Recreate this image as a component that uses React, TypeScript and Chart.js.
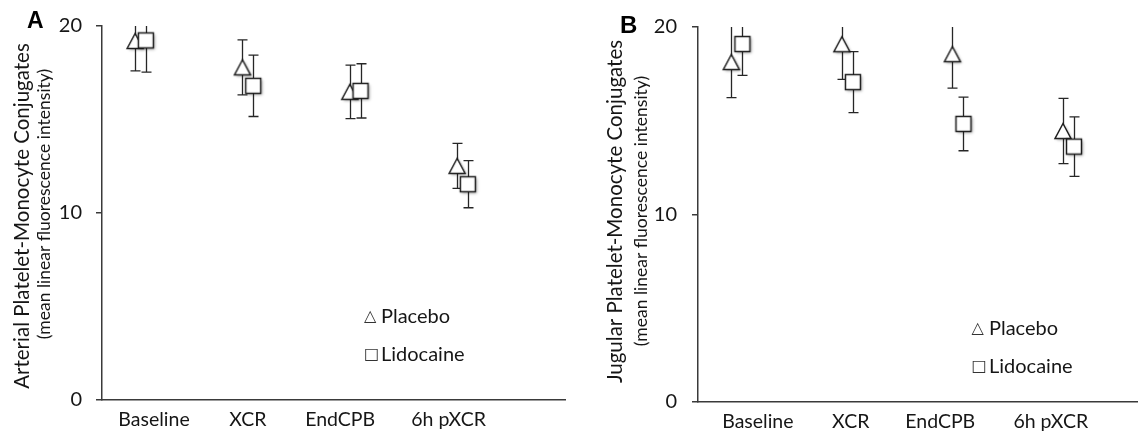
import React, { useEffect, useRef } from "react";
import { Chart, registerables } from "chart.js";

Chart.register(...registerables);

// ---------- data ----------
const categories = ["Baseline", "XCR", "EndCPB", "6h pXCR"];
const seriesNames = ["Placebo", "Lidocaine"];
const yTickValues = [0, 10, 20];

const arterialPlacebo = [19.2, 17.79, 16.48, 12.52];
const arterialPlaceboErr = [1.6, 1.47, 1.43, 1.2];
const arterialLidocaine = [19.23, 16.8, 16.53, 11.54];
const arterialLidocaineErr = [1.7, 1.64, 1.45, 1.26];

const jugularPlacebo = [18.13, 19.08, 18.55, 14.45];
const jugularPlaceboErr = [1.9, 1.87, 1.81, 1.74];
const jugularLidocaine = [19.09, 17.06, 14.83, 13.62];
const jugularLidocaineErr = [1.67, 1.63, 1.43, 1.59];

// category label positions along the x axis (axis units; category i sits at i+1)
const arterialLabelAt = [1.126, 2.0, 2.86, 3.87];
const jugularLabelAt = [1.19, 2.03, 2.84, 3.84];

// ---------- styling ----------
const SERIES_SHIFT = 0.05;
const FONT = "Lato, 'Open Sans', sans-serif";
const INK = "#161616";
const AXIS = "#3a3a3a";

function makeMarker(shape: "triangle" | "square"): HTMLCanvasElement {
  const c = document.createElement("canvas");
  c.width = 26;
  c.height = 26;
  const ctx = c.getContext("2d")!;
  const cx = 13;
  const cy = 13;
  ctx.beginPath();
  if (shape === "square") {
    ctx.rect(cx - 7.5, cy - 7.5, 15, 15);
  } else {
    ctx.moveTo(cx, cy - 7.5);
    ctx.lineTo(cx + 8, cy + 7.5);
    ctx.lineTo(cx - 8, cy + 7.5);
    ctx.closePath();
  }
  ctx.shadowColor = "rgba(0,0,0,0.35)";
  ctx.shadowBlur = 3;
  ctx.shadowOffsetX = 1.5;
  ctx.shadowOffsetY = 1.5;
  ctx.fillStyle = "#ffffff";
  ctx.fill();
  ctx.shadowColor = "transparent";
  ctx.lineWidth = 1.5;
  ctx.strokeStyle = "#1c1c1c";
  ctx.stroke();
  return c;
}

const errorBarPlugin = {
  id: "errorBars",
  beforeDatasetsDraw(chart: any) {
    const { ctx, chartArea, scales } = chart;
    const xs = scales.x;
    const ys = scales.y;
    ctx.save();
    ctx.beginPath();
    ctx.rect(chartArea.left, chartArea.top, chartArea.right - chartArea.left, chartArea.bottom - chartArea.top);
    ctx.clip();
    ctx.strokeStyle = "#262626";
    ctx.lineWidth = 1.3;
    chart.data.datasets.forEach((ds: any) => {
      ds.data.forEach((pt: any) => {
        const px = Math.round(xs.getPixelForValue(pt.x)) + 0.5;
        const top = ys.getPixelForValue(pt.y + pt.err);
        const bot = ys.getPixelForValue(pt.y - pt.err);
        ctx.beginPath();
        ctx.moveTo(px, top);
        ctx.lineTo(px, bot);
        ctx.moveTo(px - 5, top);
        ctx.lineTo(px + 5, top);
        ctx.moveTo(px - 5, bot);
        ctx.lineTo(px + 5, bot);
        ctx.stroke();
      });
    });
    ctx.restore();
  },
};

type PanelCfg = {
  letter: string;
  title: string;
  subtitle: string;
  placebo: number[];
  placeboErr: number[];
  lidocaine: number[];
  lidocaineErr: number[];
  labelAt: number[];
  canvasLeft: number;
  canvasWidth: number;
  yAxisWidth: number;
  yTickPadding: number;
  padTop: number;
  padRight: number;
  xAxisHeight: number;
  xMin: number;
  xMax: number;
  letterX: number;
  letterY: number;
  letterSize: number;
  titleX: number;
  titleY: number;
  subX: number;
  subY: number;
  legendSymX: number;
  legendTextX: number;
  legendRows: number[];
};

const panels: PanelCfg[] = [
  {
    letter: "A",
    title: "Arterial Platelet-Monocyte Conjugates",
    subtitle: "(mean linear fluorescence intensity)",
    placebo: arterialPlacebo,
    placeboErr: arterialPlaceboErr,
    lidocaine: arterialLidocaine,
    lidocaineErr: arterialLidocaineErr,
    labelAt: arterialLabelAt,
    canvasLeft: 0,
    canvasWidth: 570,
    yAxisWidth: 102,
    yTickPadding: 14,
    padTop: 25,
    padRight: 5,
    xAxisHeight: 37,
    xMin: 0.6413,
    xMax: 4.955,
    letterX: 27,
    letterY: 28,
    letterSize: 23,
    titleX: 22,
    titleY: 216,
    subX: 44.5,
    subY: 204,
    legendSymX: 364,
    legendTextX: 381,
    legendRows: [317, 355],
  },
  {
    letter: "B",
    title: "Jugular Platelet-Monocyte Conjugates",
    subtitle: "(mean linear fluorescence intensity)",
    placebo: jugularPlacebo,
    placeboErr: jugularPlaceboErr,
    lidocaine: jugularLidocaine,
    lidocaineErr: jugularLidocaineErr,
    labelAt: jugularLabelAt,
    canvasLeft: 570,
    canvasWidth: 572,
    yAxisWidth: 128,
    yTickPadding: 15,
    padTop: 22,
    padRight: 0,
    xAxisHeight: 35,
    xMin: 0.6485,
    xMax: 4.62,
    letterX: 50,
    letterY: 33,
    letterSize: 24,
    titleX: 45,
    titleY: 211.5,
    subX: 71.5,
    subY: 211,
    legendSymX: 401.5,
    legendTextX: 419,
    legendRows: [329, 367],
  },
];

function makeTextPlugin(p: PanelCfg) {
  return {
    id: "panelText",
    afterDraw(chart: any) {
      const ctx = chart.ctx;
      ctx.save();
      ctx.fillStyle = "#000000";
      ctx.textAlign = "left";
      ctx.textBaseline = "alphabetic";
      ctx.font = `bold ${p.letterSize}px 'Liberation Sans', Arial, sans-serif`;
      ctx.fillText(p.letter, p.letterX, p.letterY);

      ctx.fillStyle = INK;
      ctx.save();
      ctx.translate(p.titleX, p.titleY);
      ctx.rotate(-Math.PI / 2);
      ctx.textAlign = "center";
      ctx.textBaseline = "middle";
      ctx.font = `20.5px ${FONT}`;
      ctx.fillText(p.title, 0, 0);
      ctx.restore();

      ctx.save();
      ctx.translate(p.subX, p.subY);
      ctx.rotate(-Math.PI / 2);
      ctx.textAlign = "center";
      ctx.textBaseline = "middle";
      ctx.font = `17.5px ${FONT}`;
      ctx.fillText(p.subtitle, 0, 0);
      ctx.restore();

      const symbols = ["\u25B3", "\u25A1"];
      seriesNames.forEach((name, i) => {
        const y = p.legendRows[i];
        ctx.textAlign = "left";
        ctx.textBaseline = "middle";
        ctx.fillStyle = "#333333";
        ctx.font = `16px 'DejaVu Sans', sans-serif`;
        ctx.fillText(symbols[i], p.legendSymX, y);
        ctx.fillStyle = INK;
        ctx.font = `20px ${FONT}`;
        ctx.fillText(name, p.legendTextX, y);
      });
      ctx.restore();
    },
  };
}

function Panel({ p }: { p: PanelCfg }) {
  const ref = useRef<HTMLCanvasElement | null>(null);
  useEffect(() => {
    if (!ref.current) return;
    const tri = makeMarker("triangle");
    const sq = makeMarker("square");
    const chart = new Chart(ref.current, {
      type: "scatter",
      data: {
        datasets: [
          {
            label: seriesNames[1],
            data: p.lidocaine.map((v, i) => ({ x: i + 1 + SERIES_SHIFT, y: v, err: p.lidocaineErr[i] })) as any,
            pointStyle: sq as any,
            order: 0,
            clip: false as any,
          },
          {
            label: seriesNames[0],
            data: p.placebo.map((v, i) => ({ x: i + 1 - SERIES_SHIFT, y: v, err: p.placeboErr[i] })) as any,
            pointStyle: tri as any,
            order: 1,
            clip: false as any,
          },
        ],
      },
      options: {
        responsive: false,
        animation: false,
        events: [],
        layout: { padding: { top: p.padTop, right: p.padRight, bottom: 0, left: 0 } },
        plugins: { legend: { display: false }, tooltip: { enabled: false } },
        scales: {
          x: {
            type: "linear",
            min: p.xMin,
            max: p.xMax,
            afterBuildTicks: (s: any) => {
              s.ticks = p.labelAt.map((v) => ({ value: v }));
            },
            afterFit: (s: any) => {
              s.height = p.xAxisHeight;
            },
            ticks: {
              autoSkip: false,
              maxRotation: 0,
              minRotation: 0,
              padding: 8,
              color: INK,
              font: { family: FONT, size: 19.5 },
              callback: (_v: any, i: number) => categories[i],
            },
            grid: { display: false, drawTicks: false },
            border: { display: true, color: AXIS, width: 1.5 },
          },
          y: {
            type: "linear",
            min: 0,
            max: 20,
            afterBuildTicks: (s: any) => {
              s.ticks = yTickValues.map((v) => ({ value: v }));
            },
            afterFit: (s: any) => {
              s.width = p.yAxisWidth;
            },
            ticks: {
              padding: p.yTickPadding,
              color: INK,
              font: { family: FONT, size: 20 },
            },
            grid: { drawOnChartArea: false, drawTicks: true, tickLength: 6, color: AXIS, lineWidth: 1.5 },
            border: { display: true, color: AXIS, width: 1.5 },
          },
        },
      },
      plugins: [errorBarPlugin, makeTextPlugin(p)],
    } as any);
    return () => chart.destroy();
  }, [p]);
  return (
    <canvas
      ref={ref}
      width={p.canvasWidth}
      height={437}
      style={{ position: "absolute", left: p.canvasLeft, top: 0, width: p.canvasWidth, height: 437 }}
    />
  );
}

export default function App() {
  return (
    <div style={{ position: "fixed", left: 0, top: 0, width: 1142, height: 437, background: "#ffffff", overflow: "hidden" }}>
      {panels.map((p) => (
        <Panel key={p.letter} p={p} />
      ))}
    </div>
  );
}
